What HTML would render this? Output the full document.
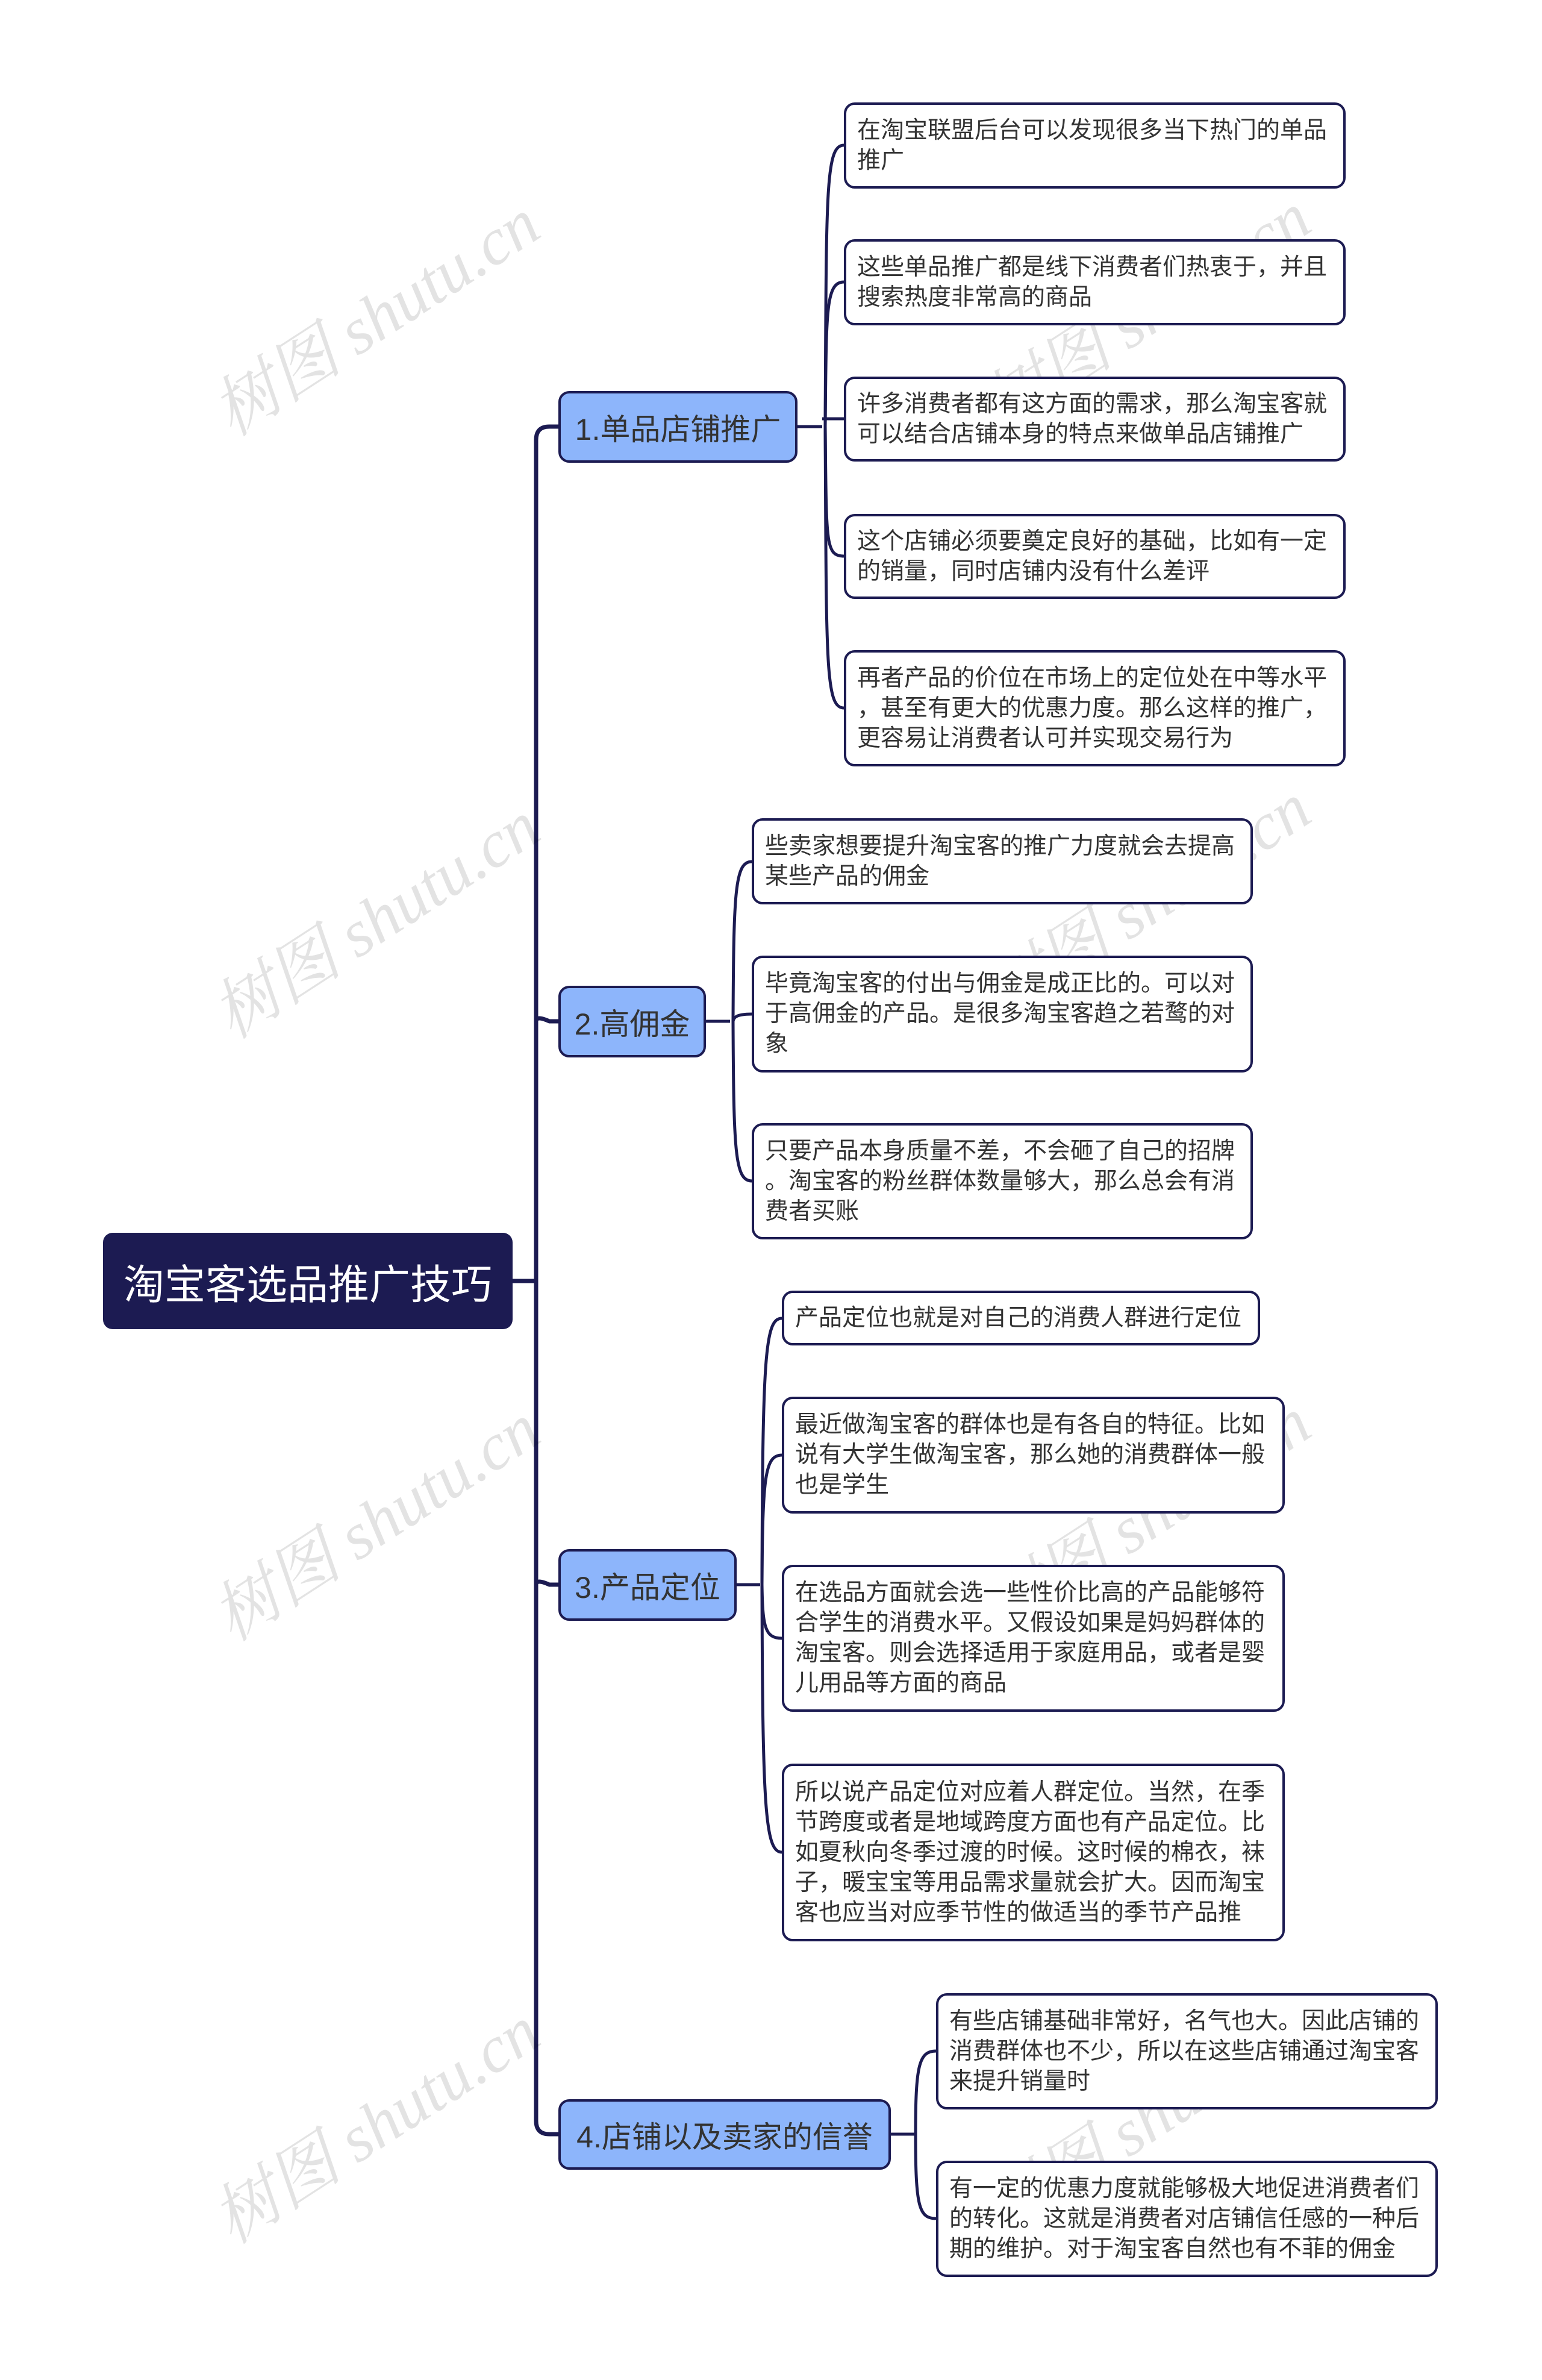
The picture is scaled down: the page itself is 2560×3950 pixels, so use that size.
<!DOCTYPE html>
<html><head><meta charset="utf-8"><style>
body{margin:0;width:2560px;height:3950px;background:#fff;position:relative;overflow:hidden;font-family:"Liberation Sans","Noto Sans CJK SC",sans-serif;}
.b{position:absolute;box-sizing:border-box;display:flex;align-items:center;}
.leaf{background:#fff;border:4px solid #1c1b52;border-radius:18px;padding:0 18px;font-size:39px;line-height:50px;color:#333;}
.br{background:#8db5fb;border:4px solid #1c1b52;border-radius:18px;padding:0;font-size:50px;color:#333;white-space:nowrap;justify-content:center;}
.root{background:#1c1b52;border-radius:16px;color:#fff;font-size:68px;justify-content:center;white-space:nowrap;}
.wm{position:absolute;font-family:"Liberation Serif","Noto Serif CJK SC",serif;font-style:italic;font-size:110px;color:rgba(0,0,0,0.11);transform:rotate(-33deg);white-space:nowrap;transform-origin:center;}
svg{position:absolute;left:0;top:0;}
</style></head><body>
<svg width="2560" height="3950" fill="none" stroke="#1c1b52">
<g stroke-width="7">
<path d="M851 2126 H890"/>
<path d="M927 708 H912 Q890 708 890 730 V3520 Q890 3542 912 3542 H927"/>
<path d="M890 1695 Q890 1685 912 1695 H927"/>
<path d="M890 2630 Q890 2620 912 2630 H927"/>
</g>
<g stroke-width="5">
<path d="M1324 708 H1365"/>
<path d="M1401 241 C1370 241 1372 320 1370 708 C1372 1100 1370 1175 1401 1175"/>
<path d="M1370 708 C1372 520 1370 468 1401 468"/>
<path d="M1370 708 C1372 900 1370 923 1401 923"/>
<path d="M1365 695 H1401"/>
<path d="M1172 1695 H1212"/>
<path d="M1248 1430 C1220 1430 1218 1480 1217 1695 C1218 1910 1220 1960 1248 1960"/>
<path d="M1217 1695 C1218 1690 1220 1683 1248 1683"/>
<path d="M1223 2630 H1262"/>
<path d="M1298 2188 C1270 2188 1266 2250 1265 2630 C1266 3000 1270 3074 1298 3074"/>
<path d="M1265 2630 C1266 2450 1270 2415 1298 2415"/>
<path d="M1265 2630 C1266 2700 1270 2719 1298 2719"/>
<path d="M1479 3542 H1518"/>
<path d="M1554 3404 C1525 3404 1520 3430 1520 3542 C1520 3660 1525 3682 1554 3682"/>
</g>
</svg>

<div class="wm" style="left:310px;top:440px">树图 shutu.cn</div>
<div class="wm" style="left:1590px;top:430px">树图 shutu.cn</div>
<div class="wm" style="left:310px;top:1440px">树图 shutu.cn</div>
<div class="wm" style="left:1590px;top:1410px">树图 shutu.cn</div>
<div class="wm" style="left:310px;top:2440px">树图 shutu.cn</div>
<div class="wm" style="left:1590px;top:2430px">树图 shutu.cn</div>
<div class="wm" style="left:310px;top:3440px">树图 shutu.cn</div>
<div class="wm" style="left:1590px;top:3430px">树图 shutu.cn</div>

<div class="b root" style="left:171px;top:2046px;width:680px;height:160px">淘宝客选品推广技巧</div>

<div class="b br" style="left:927px;top:649px;width:397px;height:119px">1.单品店铺推广</div>
<div class="b br" style="left:927px;top:1636px;width:245px;height:119px">2.高佣金</div>
<div class="b br" style="left:927px;top:2571px;width:296px;height:119px">3.产品定位</div>
<div class="b br" style="left:927px;top:3484px;width:552px;height:117px">4.店铺以及卖家的信誉</div>

<div class="b leaf" style="left:1401px;top:170px;width:833px;height:143px">在淘宝联盟后台可以发现很多当下热门的单品<br>推广</div>
<div class="b leaf" style="left:1401px;top:397px;width:833px;height:143px">这些单品推广都是线下消费者们热衷于，并且<br>搜索热度非常高的商品</div>
<div class="b leaf" style="left:1401px;top:625px;width:833px;height:141px">许多消费者都有这方面的需求，那么淘宝客就<br>可以结合店铺本身的特点来做单品店铺推广</div>
<div class="b leaf" style="left:1401px;top:853px;width:833px;height:141px">这个店铺必须要奠定良好的基础，比如有一定<br>的销量，同时店铺内没有什么差评</div>
<div class="b leaf" style="left:1401px;top:1079px;width:833px;height:193px">再者产品的价位在市场上的定位处在中等水平<br>，甚至有更大的优惠力度。那么这样的推广，<br>更容易让消费者认可并实现交易行为</div>

<div class="b leaf" style="left:1248px;top:1358px;width:832px;height:143px">些卖家想要提升淘宝客的推广力度就会去提高<br>某些产品的佣金</div>
<div class="b leaf" style="left:1248px;top:1586px;width:832px;height:194px">毕竟淘宝客的付出与佣金是成正比的。可以对<br>于高佣金的产品。是很多淘宝客趋之若鹜的对<br>象</div>
<div class="b leaf" style="left:1248px;top:1864px;width:832px;height:193px">只要产品本身质量不差，不会砸了自己的招牌<br>。淘宝客的粉丝群体数量够大，那么总会有消<br>费者买账</div>

<div class="b leaf" style="left:1298px;top:2142px;width:794px;height:91px">产品定位也就是对自己的消费人群进行定位</div>
<div class="b leaf" style="left:1298px;top:2318px;width:835px;height:194px">最近做淘宝客的群体也是有各自的特征。比如<br>说有大学生做淘宝客，那么她的消费群体一般<br>也是学生</div>
<div class="b leaf" style="left:1298px;top:2597px;width:835px;height:244px">在选品方面就会选一些性价比高的产品能够符<br>合学生的消费水平。又假设如果是妈妈群体的<br>淘宝客。则会选择适用于家庭用品，或者是婴<br>儿用品等方面的商品</div>
<div class="b leaf" style="left:1298px;top:2927px;width:835px;height:295px">所以说产品定位对应着人群定位。当然，在季<br>节跨度或者是地域跨度方面也有产品定位。比<br>如夏秋向冬季过渡的时候。这时候的棉衣，袜<br>子，暖宝宝等用品需求量就会扩大。因而淘宝<br>客也应当对应季节性的做适当的季节产品推</div>

<div class="b leaf" style="left:1554px;top:3308px;width:833px;height:193px">有些店铺基础非常好，名气也大。因此店铺的<br>消费群体也不少，所以在这些店铺通过淘宝客<br>来提升销量时</div>
<div class="b leaf" style="left:1554px;top:3586px;width:833px;height:193px">有一定的优惠力度就能够极大地促进消费者们<br>的转化。这就是消费者对店铺信任感的一种后<br>期的维护。对于淘宝客自然也有不菲的佣金</div>
</body></html>
